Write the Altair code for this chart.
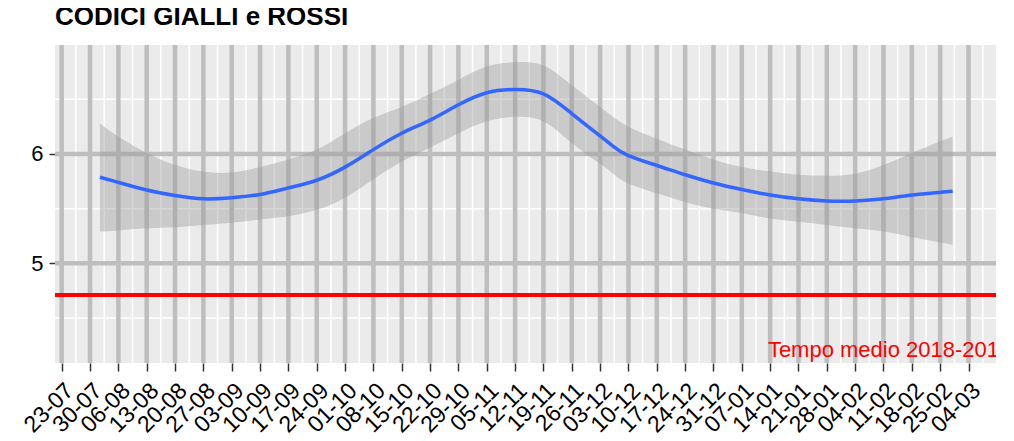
import altair as alt
import pandas as pd

title_text = "CODICI GIALLI e ROSSI"

tick_labels = ["23-07", "30-07", "06-08", "13-08", "20-08", "27-08", "03-09",
               "10-09", "17-09", "24-09", "01-10", "08-10", "15-10", "22-10",
               "29-10", "05-11", "12-11", "19-11", "26-11", "03-12", "10-12",
               "17-12", "24-12", "31-12", "07-01", "14-01", "21-01", "28-01",
               "04-02", "11-02", "18-02", "25-02", "04-03"]

# smoothed series (week index from 23-07), fit and confidence band
week = [1.35, 2, 3, 4, 5, 6, 7, 8, 9, 10, 11, 12, 13, 14, 15, 16, 17, 18, 19,
        19.46, 20, 21, 22, 23, 24, 25, 26, 27, 28, 29, 30, 31.44]
fit = [5.787, 5.74, 5.67, 5.62, 5.59, 5.60, 5.63, 5.69, 5.76, 5.88, 6.04, 6.19,
       6.31, 6.45, 6.56, 6.59, 6.55, 6.37, 6.165, 6.07, 5.985, 5.895, 5.81, 5.735,
       5.675, 5.625, 5.59, 5.57, 5.57, 5.59, 5.625, 5.66]
lower = [5.29, 5.30, 5.32, 5.33, 5.35, 5.37, 5.40, 5.43, 5.49, 5.60, 5.77, 5.93,
         6.06, 6.19, 6.30, 6.34, 6.30, 6.10, 5.91, 5.82, 5.73, 5.64, 5.56, 5.50,
         5.46, 5.41, 5.38, 5.35, 5.32, 5.29, 5.24, 5.17]
upper = [6.28, 6.16, 6.01, 5.90, 5.84, 5.83, 5.88, 5.95, 6.04, 6.19, 6.33, 6.43,
         6.55, 6.68, 6.80, 6.84, 6.81, 6.63, 6.43, 6.34, 6.25, 6.14, 6.04, 5.95,
         5.88, 5.84, 5.81, 5.80, 5.82, 5.90, 6.01, 6.16]

ref_value = 4.71
ref_label = "Tempo medio 2018-2019"
ref_label_week = 24.92
ref_label_y = 4.14

y_major = [5, 6]
y_minor = [4.5, 5.5, 6.5]
x_major = list(range(len(tick_labels)))
x_minor = [i - 0.5 for i in range(len(tick_labels) + 1)]

FONT = "Liberation Sans"
xscale = alt.Scale(domain=[-0.236, 32.97], nice=False, zero=False)
yscale = alt.Scale(domain=[4.088, 6.997], nice=False, zero=False)

df = pd.DataFrame({"week": week, "fit": fit, "lower": lower, "upper": upper})
df_xmin = pd.DataFrame({"v": x_minor})
df_xmaj = pd.DataFrame({"v": x_major})
df_ymin = pd.DataFrame({"v": y_minor})
df_ymaj = pd.DataFrame({"v": y_major})
df_ref = pd.DataFrame({"v": [ref_value]})
df_lab = pd.DataFrame({"x": [ref_label_week], "y": [ref_label_y], "t": [ref_label]})

label_expr = "[" + ",".join("'%s'" % l for l in tick_labels) + "][datum.value]"

x_axis = alt.Axis(values=x_major, labelExpr=label_expr, labelAngle=-45,
                  labelAlign="right", labelBaseline="top", labelFontSize=23,
                  labelFont=FONT, labelColor="black", tickColor="#333333",
                  tickSize=8, tickWidth=1.5, domain=False, grid=False,
                  title=None, labelPadding=8, labelOverlap=False)
y_axis = alt.Axis(values=y_major, format="d", labelFontSize=22, labelFont=FONT,
                  labelColor="black", tickColor="#333333", tickSize=6,
                  tickWidth=1.5, domain=False, grid=False, title=None,
                  labelPadding=6)


def X(field):
    return alt.X(field, scale=xscale, axis=x_axis)


def Y(field):
    return alt.Y(field, scale=yscale, axis=y_axis)


minor_x = alt.Chart(df_xmin).mark_rule(color="white", strokeWidth=1.5, clip=True).encode(x=X("v:Q"))
minor_y = alt.Chart(df_ymin).mark_rule(color="white", strokeWidth=1.5, clip=True).encode(y=Y("v:Q"))
major_x = alt.Chart(df_xmaj).mark_rule(color="#BEBEBE", strokeWidth=4.5, clip=True).encode(x=X("v:Q"))
major_y = alt.Chart(df_ymaj).mark_rule(color="#BEBEBE", strokeWidth=4.5, clip=True).encode(y=Y("v:Q"))

band = alt.Chart(df).mark_area(color="#999999", opacity=0.4, interpolate="natural").encode(
    x=X("week:Q"), y=Y("lower:Q"), y2="upper:Q")
line = alt.Chart(df).mark_line(color="#3366FF", strokeWidth=3.5, interpolate="natural").encode(
    x=X("week:Q"), y=Y("fit:Q"))
ref = alt.Chart(df_ref).mark_rule(color="#FF0000", strokeWidth=4).encode(y=Y("v:Q"))
lab = alt.Chart(df_lab).mark_text(color="#FF0000", fontSize=22, font=FONT,
                                  align="left", baseline="alphabetic", clip=True).encode(
    x=X("x:Q"), y=Y("y:Q"), text="t:N")

chart = alt.layer(minor_x, minor_y, major_x, major_y, band, line, ref, lab).properties(
    width=941, height=318,
    title=alt.TitleParams(title_text, anchor="start", frame="group", fontSize=26,
                          fontWeight="bold", font=FONT, color="black",
                          baseline="top", offset=15),
    autosize=alt.AutoSizeParams(type="none"),
    padding={"left": 47, "top": 37, "right": 10, "bottom": 78},
).configure_view(fill="#EBEBEB", stroke=None)

chart.save("out.html", embed_options={"renderer": "svg", "actions": False})
